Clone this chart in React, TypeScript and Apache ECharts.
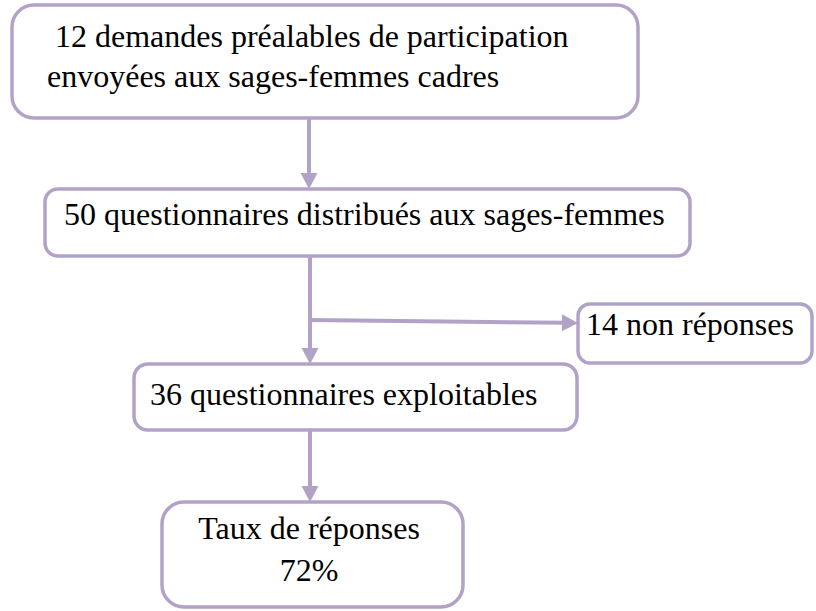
import React, { useEffect, useRef } from "react";
import * as echarts from "echarts";

// Texts of the flowchart boxes
const box1Lines = ["12 demandes préalables de participation", "envoyées aux sages-femmes cadres"];
const box2Lines = ["50 questionnaires distribués aux sages-femmes"];
const sideLines = ["14 non réponses"];
const box3Lines = ["36 questionnaires exploitables"];
const box4Lines = ["Taux de réponses", "72%"];

const COLOR = "#B3A2C7";
const FONT = "Liberation Serif";
const FS = 32;
const MID = 11; // baseline to visual middle offset

type Box = {
  lines: string[];
  x: number; y: number; w: number; h: number; r: number;
  tx: number[]; ty: number[]; align: "left" | "center";
};

const boxes: Box[] = [
  { lines: box1Lines, x: 12, y: 5, w: 626, h: 113, r: 22, tx: [55, 47], ty: [47, 87], align: "left" },
  { lines: box2Lines, x: 45, y: 189, w: 645, h: 67, r: 13, tx: [64], ty: [225], align: "left" },
  { lines: sideLines, x: 578, y: 304, w: 234, h: 59, r: 12, tx: [586], ty: [335], align: "left" },
  { lines: box3Lines, x: 134, y: 364, w: 443, h: 66, r: 14, tx: [150], ty: [405], align: "left" },
  { lines: box4Lines, x: 162, y: 502, w: 301, h: 105, r: 22, tx: [309, 309], ty: [539, 581], align: "center" },
];

// connectors: [x1, y1, x2, y2, arrow]
const connectors: [number, number, number, number, boolean][] = [
  [309, 118, 309, 189, true],
  [310, 256, 310, 364, true],
  [310, 320, 578, 323, true],
  [310, 430, 310, 502, true],
];

function arrowHead(x1: number, y1: number, x2: number, y2: number) {
  const ang = Math.atan2(y2 - y1, x2 - x1);
  const len = 16;
  const half = 8.5;
  const bx = x2 - len * Math.cos(ang);
  const by = y2 - len * Math.sin(ang);
  const px = -Math.sin(ang) * half;
  const py = Math.cos(ang) * half;
  return [
    [x2, y2],
    [bx + px, by + py],
    [bx - px, by - py],
  ];
}

export default function App() {
  const ref = useRef<HTMLDivElement>(null);
  useEffect(() => {
    if (!ref.current) return;
    const chart = echarts.init(ref.current, undefined, { renderer: "svg" });
    const elements: any[] = [];
    boxes.forEach((b) => {
      elements.push({
        type: "rect",
        shape: { x: b.x, y: b.y, width: b.w, height: b.h, r: b.r },
        style: { fill: "#ffffff", stroke: COLOR, lineWidth: 3.5 },
        z: 1,
      });
      b.lines.forEach((t, i) => {
        elements.push({
          type: "text",
          x: b.tx[i],
          y: b.ty[i] - MID,
          style: {
            text: t,
            fill: "#000000",
            fontFamily: FONT,
            fontSize: FS,
            textAlign: b.align,
            textVerticalAlign: "middle",
          },
          z: 3,
        });
      });
    });
    connectors.forEach(([x1, y1, x2, y2, arrow]) => {
      const ang = Math.atan2(y2 - y1, x2 - x1);
      const ex = arrow ? x2 - 12 * Math.cos(ang) : x2;
      const ey = arrow ? y2 - 12 * Math.sin(ang) : y2;
      elements.push({
        type: "line",
        shape: { x1, y1, x2: ex, y2: ey },
        style: { stroke: COLOR, lineWidth: 4 },
        z: 2,
      });
      if (arrow) {
        elements.push({
          type: "polygon",
          shape: { points: arrowHead(x1, y1, x2, y2) },
          style: { fill: COLOR },
          z: 2,
        });
      }
    });
    chart.setOption({
      animation: false,
      backgroundColor: "#ffffff",
      graphic: { elements },
    });
    return () => chart.dispose();
  }, []);
  return (
    <div
      ref={ref}
      style={{ position: "fixed", left: 0, top: 0, width: 816, height: 611, background: "#fff" }}
    />
  );
}
